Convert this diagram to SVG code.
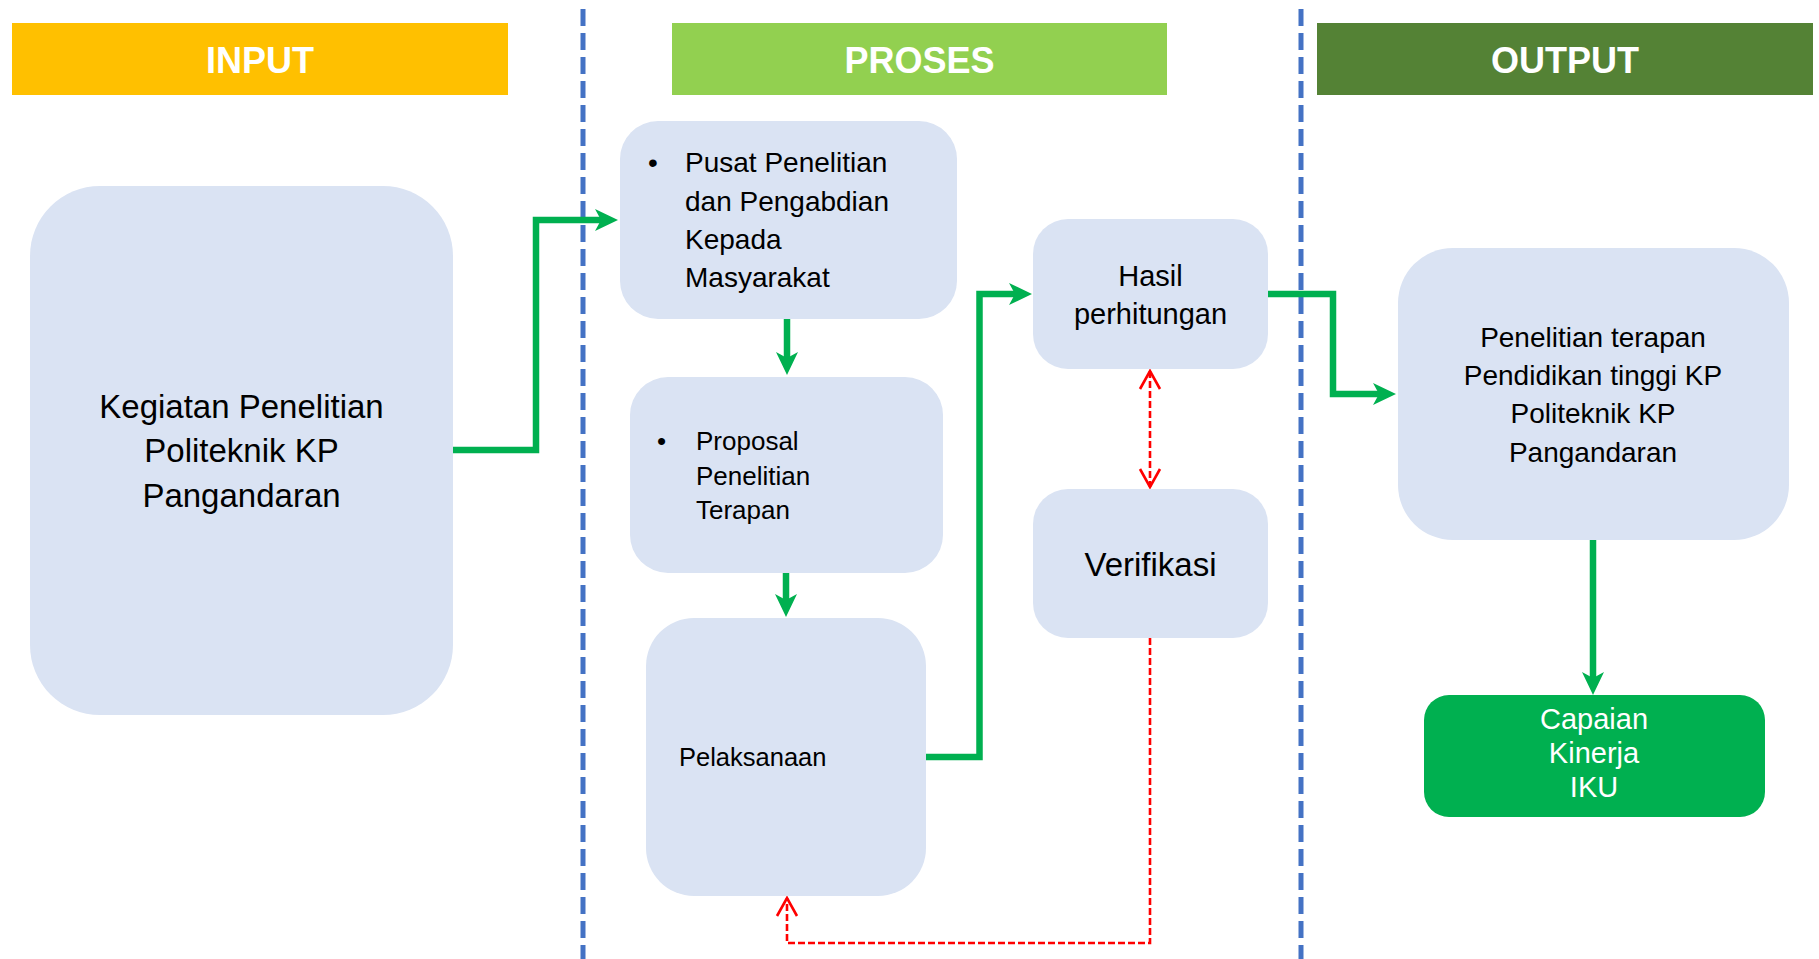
<svg xmlns="http://www.w3.org/2000/svg" width="1819" height="959" viewBox="0 0 1819 959">
<style>
.hdr{font-family:"Liberation Sans",Arial,sans-serif;font-weight:bold;font-size:36px;fill:#fff;text-anchor:middle}
.box{fill:#DAE3F3}
.t{font-family:"Liberation Sans",Arial,sans-serif;fill:#000}
.c{text-anchor:middle}
.sep{stroke:#4472C4;stroke-width:5;stroke-dasharray:17 7;fill:none}
.g{stroke:#00B050;stroke-width:6.5;fill:none;stroke-linejoin:miter}
.r{stroke:#FF0000;stroke-width:2.6;stroke-dasharray:7 3;fill:none}
</style>
<defs>
<marker id="ga" markerUnits="userSpaceOnUse" viewBox="-7 -12 25 24" refX="0" refY="0" markerWidth="25" markerHeight="24" orient="auto">
<path d="M17,0 L-6,-11 L0,0 L-6,11 Z" fill="#00B050"/>
</marker>
<marker id="ra" markerUnits="userSpaceOnUse" viewBox="-20 -12 22 24" refX="0" refY="0" markerWidth="22" markerHeight="24" orient="auto-start-reverse">
<path d="M-18,-10 L0,0 L-18,10" fill="none" stroke="#FF0000" stroke-width="2.6"/>
</marker>
</defs>
<rect width="1819" height="959" fill="#fff"/>

<g id="separators">
<line class="sep" x1="583" y1="9" x2="583" y2="959"/>
<line class="sep" x1="1301" y1="9" x2="1301" y2="959"/>
</g>

<g id="header-input">
<rect x="12" y="23" width="496" height="72" fill="#FFC000"/>
<text class="hdr" x="260" y="73">INPUT</text>
</g>
<g id="header-proses">
<rect x="672" y="23" width="495" height="72" fill="#92D050"/>
<text class="hdr" x="919.5" y="73">PROSES</text>
</g>
<g id="header-output">
<rect x="1317" y="23" width="496" height="72" fill="#548235"/>
<text class="hdr" x="1565" y="73">OUTPUT</text>
</g>

<g id="node-kegiatan">
<rect class="box" x="30" y="186" width="423" height="529" rx="70" ry="70"/>
<text class="t c" font-size="33" x="241.5"><tspan x="241.5" y="418">Kegiatan Penelitian</tspan><tspan x="241.5" y="462">Politeknik KP</tspan><tspan x="241.5" y="507">Pangandaran</tspan></text>
</g>

<g id="node-pusat">
<rect class="box" x="620" y="121" width="337" height="198" rx="38" ry="38"/>
<text class="t" font-size="28" x="648" y="172">•</text>
<text class="t" font-size="28"><tspan x="685" y="172">Pusat Penelitian</tspan><tspan x="685" y="211">dan Pengabdian</tspan><tspan x="685" y="249">Kepada</tspan><tspan x="685" y="287">Masyarakat</tspan></text>
</g>

<g id="node-proposal">
<rect class="box" x="630" y="377" width="313" height="196" rx="38" ry="38"/>
<text class="t" font-size="26" x="657" y="450">•</text>
<text class="t" font-size="26"><tspan x="696" y="450">Proposal</tspan><tspan x="696" y="485">Penelitian</tspan><tspan x="696" y="519">Terapan</tspan></text>
</g>

<g id="node-pelaksanaan">
<rect class="box" x="646" y="618" width="280" height="278" rx="48" ry="48"/>
<text class="t" font-size="25.5" x="679" y="766">Pelaksanaan</text>
</g>

<g id="node-hasil">
<rect class="box" x="1033" y="219" width="235" height="150" rx="35" ry="35"/>
<text class="t c" font-size="29"><tspan x="1150.5" y="286">Hasil</tspan><tspan x="1150.5" y="324">perhitungan</tspan></text>
</g>

<g id="node-verifikasi">
<rect class="box" x="1033" y="489" width="235" height="149" rx="35" ry="35"/>
<text class="t c" font-size="33" x="1150.5" y="576">Verifikasi</text>
</g>

<g id="node-penelitian-terapan">
<rect class="box" x="1398" y="248" width="391" height="292" rx="55" ry="55"/>
<text class="t c" font-size="28"><tspan x="1593" y="347">Penelitian terapan</tspan><tspan x="1593" y="385">Pendidikan tinggi KP</tspan><tspan x="1593" y="423">Politeknik KP</tspan><tspan x="1593" y="462">Pangandaran</tspan></text>
</g>

<g id="node-capaian">
<rect x="1424" y="695" width="341" height="122" rx="25" ry="25" fill="#00B050"/>
<text class="t c" font-size="29" style="fill:#fff"><tspan x="1594" y="729">Capaian</tspan><tspan x="1594" y="763">Kinerja</tspan><tspan x="1594" y="797">IKU</tspan></text>
</g>

<g id="connectors">
<path class="g" d="M453,450 H536 V220 H601" marker-end="url(#ga)"/>
<path class="g" d="M787,319 V358" marker-end="url(#ga)"/>
<path class="g" d="M786,573 V600" marker-end="url(#ga)"/>
<path class="g" d="M926,757 H979.5 V294 H1015" marker-end="url(#ga)"/>
<path class="g" d="M1268,294 H1333 V394 H1379" marker-end="url(#ga)"/>
<path class="g" d="M1593,540 V678" marker-end="url(#ga)"/>
<path class="r" d="M1150,371 V487" marker-start="url(#ra)" marker-end="url(#ra)"/>
<path class="r" d="M1150,638 V943 H787 V898" marker-end="url(#ra)"/>
</g>
</svg>
